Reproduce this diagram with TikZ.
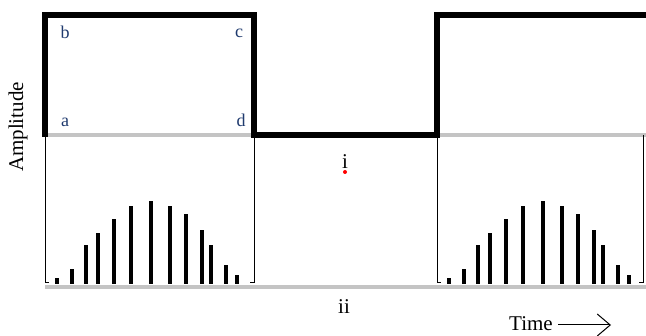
\documentclass[tikz,border=0pt]{standalone}
\usepackage{fontspec}
\setmainfont{Liberation Serif}
\usetikzlibrary{arrows.meta}
\definecolor{lblblue}{HTML}{1F3A6E}
\definecolor{basegray}{HTML}{C4C4C4}
\tikzset{
  thickline/.style={line width=6pt, line join=miter, black},
  grayline/.style={line width=4pt, basegray},
  thinline/.style={line width=1pt, black},
  bar/.style={line width=4pt, black},
  corner/.style={text=lblblue, font=\fontsize{18}{18}\selectfont, inner sep=0pt, anchor=base},
  lbl/.style={font=\fontsize{21}{21}\selectfont, inner sep=0pt},
}
\begin{document}
\begin{tikzpicture}[x=1pt,y=-1pt]
\useasboundingbox (0,0) rectangle (646,336);
% gray baselines
\draw[grayline] (45,135) -- (254,135);
\draw[grayline] (437,135) -- (646,135);
\draw[grayline] (45,287) -- (646,287);
% thin brackets
\draw[thinline] (45,135) -- (45,283) -- (49,283);
\draw[thinline] (254,135) -- (254,283) -- (250,283);
\draw[thinline] (437,135) -- (437,283) -- (441,283);
\draw[thinline] (643,135) -- (643,283) -- (639,283);
% square wave
\draw[thickline] (45,137) -- (45,15) -- (254,15) -- (254,135) -- (437,135) -- (437,15) -- (646,15);
% spectral bars
\foreach \x/\t in {12/278,27/269,41/245,53/233,69/219,86/206,106/201,125/206,141/214,157/230,166/245,181/265,192/275}{
  \draw[bar] (45+\x,284) -- (45+\x,\t);
  \draw[bar] (437+\x,284) -- (437+\x,\t);
}
% labels
\node[corner] (b) at (65,39) {b};
\node[corner] (c) at (239,38) {c};
\node[corner] (a) at (65,127) {a};
\node[corner] (d) at (241,127) {d};
\node[lbl, rotate=90] (amp) at (18,127) {Amplitude};
\node[lbl, anchor=base] (i) at (345,169) {i};
\fill[red] (345,172) circle (2);
\node[lbl, anchor=base] (ii) at (344,314) {ii};
\node[lbl, anchor=base east] (time) at (553,331) {Time};
\coordinate (tend) at (611,325);
\draw[line width=1pt, -{Straight Barb[length=13pt,width=22pt,line width=1pt]}] ([xshift=5pt,yshift=6pt]time.base east) -- (tend);
\end{tikzpicture}
\end{document}
